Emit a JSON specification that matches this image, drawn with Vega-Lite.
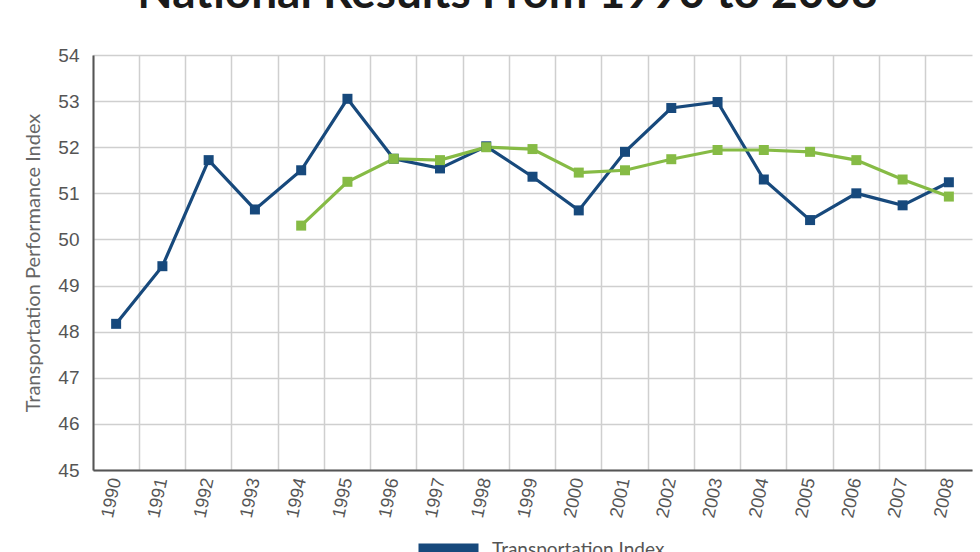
{
  "$schema": "https://vega.github.io/schema/vega-lite/v6.json",
  "autosize": "none",
  "width": 879,
  "height": 415,
  "padding": {"left": 93, "top": 55, "right": 8, "bottom": 82},
  "background": "white",
  "title": {
    "text": "National Results From 1990 to 2008",
    "font": "Lato",
    "fontSize": 46,
    "fontWeight": "bold",
    "color": "#1a1a1a",
    "anchor": "middle",
    "baseline": "alphabetic",
    "offset": 0,
    "dx": -25,
    "dy": 8
  },
  "data": {
    "values": [
      {"year": "1990", "series": "Transportation Index", "value": 48.17},
      {"year": "1991", "series": "Transportation Index", "value": 49.42},
      {"year": "1992", "series": "Transportation Index", "value": 51.72},
      {"year": "1993", "series": "Transportation Index", "value": 50.65},
      {"year": "1994", "series": "Transportation Index", "value": 51.5},
      {"year": "1995", "series": "Transportation Index", "value": 53.05},
      {"year": "1996", "series": "Transportation Index", "value": 51.75},
      {"year": "1997", "series": "Transportation Index", "value": 51.54},
      {"year": "1998", "series": "Transportation Index", "value": 52.02},
      {"year": "1999", "series": "Transportation Index", "value": 51.36},
      {"year": "2000", "series": "Transportation Index", "value": 50.63},
      {"year": "2001", "series": "Transportation Index", "value": 51.9},
      {"year": "2002", "series": "Transportation Index", "value": 52.85},
      {"year": "2003", "series": "Transportation Index", "value": 52.98},
      {"year": "2004", "series": "Transportation Index", "value": 51.3},
      {"year": "2005", "series": "Transportation Index", "value": 50.42},
      {"year": "2006", "series": "Transportation Index", "value": 51.0},
      {"year": "2007", "series": "Transportation Index", "value": 50.74},
      {"year": "2008", "series": "Transportation Index", "value": 51.24},
      {"year": "1994", "series": "Five-Year Moving Average", "value": 50.3},
      {"year": "1995", "series": "Five-Year Moving Average", "value": 51.25},
      {"year": "1996", "series": "Five-Year Moving Average", "value": 51.75},
      {"year": "1997", "series": "Five-Year Moving Average", "value": 51.72},
      {"year": "1998", "series": "Five-Year Moving Average", "value": 52.0},
      {"year": "1999", "series": "Five-Year Moving Average", "value": 51.96},
      {"year": "2000", "series": "Five-Year Moving Average", "value": 51.45},
      {"year": "2001", "series": "Five-Year Moving Average", "value": 51.5},
      {"year": "2002", "series": "Five-Year Moving Average", "value": 51.74},
      {"year": "2003", "series": "Five-Year Moving Average", "value": 51.94},
      {"year": "2004", "series": "Five-Year Moving Average", "value": 51.94},
      {"year": "2005", "series": "Five-Year Moving Average", "value": 51.9},
      {"year": "2006", "series": "Five-Year Moving Average", "value": 51.72},
      {"year": "2007", "series": "Five-Year Moving Average", "value": 51.3},
      {"year": "2008", "series": "Five-Year Moving Average", "value": 50.93}
    ]
  },
  "mark": {"type": "line", "strokeWidth": 3.2, "point": {"shape": "square", "filled": true, "size": 100}},
  "encoding": {
    "x": {
      "field": "year",
      "type": "ordinal",
      "bandPosition": 0.5,
      "scale": {"type": "band", "paddingInner": 0, "paddingOuter": 0},
      "axis": {
        "title": null,
        "bandPosition": 0,
        "grid": true,
        "gridColor": "#cfcfcf",
        "gridWidth": 1.5,
        "ticks": false,
        "domainColor": "#555555",
        "domainWidth": 2,
        "labelAngle": -78,
        "labelFont": "Liberation Sans",
        "labelFontSize": 18,
        "labelColor": "#555555",
        "labelPadding": 8
      }
    },
    "y": {
      "field": "value",
      "type": "quantitative",
      "scale": {"domain": [45, 54], "nice": false, "zero": false},
      "axis": {
        "title": "Transportation Performance Index",
        "titleFont": "Lato",
        "titleFontSize": 20,
        "titleFontWeight": "normal",
        "titleColor": "#666666",
        "titlePadding": 14,
        "values": [45, 46, 47, 48, 49, 50, 51, 52, 53, 54],
        "grid": true,
        "gridColor": "#cfcfcf",
        "gridWidth": 1.5,
        "ticks": false,
        "domainColor": "#555555",
        "domainWidth": 2,
        "labelFont": "Liberation Sans",
        "labelFontSize": 19,
        "labelColor": "#555555",
        "labelPadding": 14
      }
    },
    "color": {
      "field": "series",
      "type": "nominal",
      "scale": {"domain": ["Transportation Index", "Five-Year Moving Average"], "range": ["#17497c", "#86bb45"]},
      "legend": {
        "title": null,
        "orient": "none",
        "legendX": 346,
        "legendY": 485,
        "direction": "vertical",
        "symbolType": "M-5,-1H5V1H-5Z",
        "symbolSize": 144,
        "symbolStrokeWidth": 0,
        "labelFont": "Lato",
        "labelFontSize": 19,
        "labelColor": "#555555",
        "labelOffset": 34,
        "labelLimit": 400,
        "rowPadding": 10,
        "encode": {"symbols": {"update": {"fill": {"scale": "color", "field": "value"}, "stroke": {"value": "transparent"}, "opacity": {"value": 1}}}}
      }
    }
  },
  "config": {"view": {"stroke": null}}
}
